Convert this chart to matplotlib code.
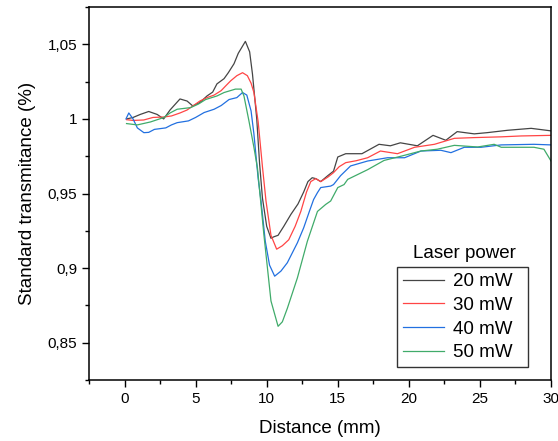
import matplotlib.pyplot as plt
from matplotlib.ticker import MultipleLocator, FuncFormatter

plt.rcParams['font.family'] = ['Liberation Sans', 'DejaVu Sans']

# 20 mW
x20 = [0.15, 0.6, 1.1, 1.7, 2.3, 2.75, 3.2, 3.9, 4.4, 4.8, 5.3, 5.8, 6.2, 6.5, 7.0, 7.3,
       7.7, 8.0, 8.5, 8.8, 9.0, 9.3, 9.5, 9.7, 10.0, 10.3, 10.5, 10.8, 11.2, 11.7, 12.2,
       12.6, 12.9, 13.2, 13.45, 13.8, 14.3, 14.7, 15.0, 15.56, 16.7, 17.9, 18.7, 19.4,
       20.6, 21.7, 22.6, 23.4, 24.6, 25.5, 26.95, 28.6, 30.0]
y20 = [1.000, 1.001, 1.003, 1.005, 1.003, 1.000, 1.006, 1.0134, 1.012, 1.0087, 1.011,
       1.0154, 1.018, 1.0235, 1.027, 1.031, 1.037, 1.044, 1.052, 1.045, 1.030, 1.000,
       0.970, 0.947, 0.928, 0.920, 0.921, 0.922, 0.928, 0.936, 0.943, 0.951, 0.958,
       0.9606, 0.960, 0.958, 0.962, 0.965, 0.9745, 0.9767, 0.9767, 0.983, 0.982, 0.984,
       0.982, 0.989, 0.9857, 0.9915, 0.990, 0.9908, 0.9924, 0.9937, 0.992]

# 30 mW
x30 = [0.15, 0.6, 1.35, 2.0, 2.75, 3.3, 3.9, 4.4, 4.8, 5.3, 5.8, 6.3, 6.8, 7.1, 7.46,
       7.9, 8.3, 8.64, 8.9, 9.1, 9.4, 9.7, 9.95, 10.3, 10.7, 11.1, 11.55, 12.0, 12.4,
       12.8, 13.1, 13.45, 13.8, 14.3, 14.7, 15.1, 15.56, 16.3, 17.1, 18.0, 19.2, 20.4,
       21.8, 23.2, 24.6, 26.5, 27.9, 30.0]
y30 = [0.9995, 0.999, 0.9993, 1.001, 1.0013, 1.002, 1.004, 1.006, 1.0087, 1.012, 1.0143,
       1.016, 1.019, 1.022, 1.0255, 1.029, 1.031, 1.029, 1.024, 1.0177, 0.998, 0.968,
       0.945, 0.922, 0.9127, 0.915, 0.919, 0.928, 0.938, 0.951, 0.958, 0.960, 0.958,
       0.961, 0.964, 0.968, 0.9707, 0.972, 0.974, 0.9785, 0.9767, 0.981, 0.983, 0.987,
       0.9875, 0.988, 0.9886, 0.989]

# 40 mW
x40 = [0.1, 0.3, 0.6, 0.9, 1.36, 1.7, 2.1, 2.9, 3.3, 3.7, 4.5, 5.0, 5.6, 6.3, 6.8, 7.35,
       7.9, 8.3, 8.6, 8.9, 9.1, 9.4, 9.6, 9.9, 10.2, 10.56, 11.0, 11.45, 12.16, 12.6,
       13.0, 13.3, 13.57, 13.8, 14.5, 14.7, 15.2, 15.9, 17.1, 18.5, 19.7, 20.85, 22.25,
       22.96, 23.9, 25.07, 26.5, 28.8, 30.0]
y40 = [1.000, 1.004, 1.000, 0.994, 0.9908, 0.991, 0.993, 0.994, 0.996, 0.9975, 0.9987,
       1.001, 1.0043, 1.0065, 1.009, 1.013, 1.0143, 1.0177, 1.016, 1.0054, 0.990, 0.960,
       0.945, 0.918, 0.902, 0.8946, 0.898, 0.9036, 0.917, 0.927, 0.938, 0.946, 0.9506,
       0.954, 0.955, 0.956, 0.962, 0.9685, 0.9718, 0.974, 0.974, 0.9785, 0.979, 0.9774,
       0.981, 0.981, 0.9826, 0.983, 0.9826]

# 50 mW
x50 = [0.14, 0.9, 1.83, 2.77, 3.2, 3.7, 4.65, 5.2, 5.7, 6.5, 7.0, 7.8, 8.2, 8.4, 8.75,
       9.1, 9.35, 9.8, 10.3, 10.8, 11.1, 11.45, 12.16, 12.86, 13.57, 14.15, 14.5, 15.0,
       15.44, 15.7, 17.1, 18.26, 19.44, 20.85, 22.0, 23.2, 24.84, 26.0, 26.5, 28.8, 29.5,
       30.0]
y50 = [0.9969, 0.996, 0.998, 1.001, 1.004, 1.0065, 1.0076, 1.010, 1.013, 1.0154, 1.0177,
       1.020, 1.020, 1.0154, 0.9987, 0.981, 0.967, 0.9226, 0.878, 0.861, 0.864, 0.873,
       0.8935, 0.918, 0.938, 0.9427, 0.945, 0.954, 0.956, 0.9595, 0.966, 0.9722, 0.975,
       0.9785, 0.9797, 0.9823, 0.9812, 0.983, 0.981, 0.981, 0.9797, 0.9718]

labels = ['20 mW', '30 mW', '40 mW', '50 mW']
colors = ['#454545', '#ff4545', '#2270e0', '#40ab6a']

fig = plt.figure(figsize=(5.58, 4.41), dpi=100)
ax = fig.add_axes([0.1595, 0.1383, 0.828, 0.8457])

for xs, ys, lab, c in zip([x20, x30, x40, x50], [y20, y30, y40, y50], labels, colors):
    ax.plot(xs, ys, color=c, lw=0.9, label=lab)

ax.set_xlim(-2.5, 30)
ax.set_ylim(0.825, 1.075)
ax.xaxis.set_major_locator(MultipleLocator(5))
ax.xaxis.set_minor_locator(MultipleLocator(2.5))
ax.yaxis.set_major_locator(MultipleLocator(0.05))
ax.yaxis.set_minor_locator(MultipleLocator(0.025))
ax.yaxis.set_major_formatter(FuncFormatter(lambda v, p: f"{v:.2f}".rstrip('0').rstrip('.').replace('.', ',')))
ax.tick_params(which='both', direction='out', labelsize=11, width=1)
ax.tick_params(which='major', length=5)
ax.tick_params(which='minor', length=3)
for s in ax.spines.values():
    s.set_linewidth(1.1)

ax.set_xlabel('Distance (mm)', fontsize=13.5, labelpad=10)
ax.set_ylabel('Standard transmitance (%)', fontsize=13.5, labelpad=8)

# legend box spans 397..528 px horizontally, top edge at 267 px
leg = ax.legend(loc='upper left',
                bbox_to_anchor=(397 / 558, 1 - 267 / 441, 131 / 558, 0.0),
                bbox_transform=fig.transFigure, mode='expand', fontsize=13.5,
                frameon=True, fancybox=False, edgecolor='black', borderaxespad=0,
                handlelength=2.2, labelspacing=0.35, borderpad=0.32, handletextpad=0.45)
leg.get_frame().set_linewidth(1.0)
fig.text(464 / 558, 1 - 253 / 441, 'Laser power', fontsize=13.5, ha='center', va='center')

fig.savefig('out.png', dpi=100)
